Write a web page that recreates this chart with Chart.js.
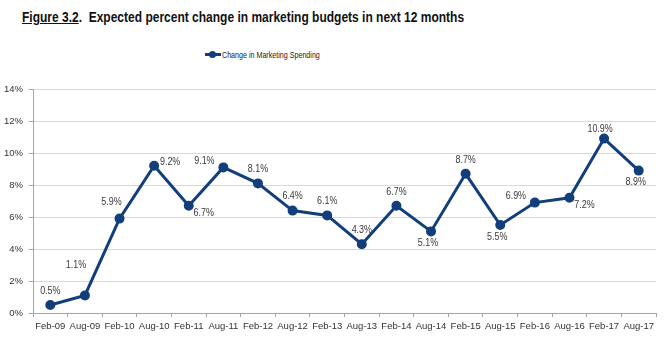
<!DOCTYPE html>
<html>
<head>
<meta charset="utf-8">
<script src="https://cdn.jsdelivr.net/npm/chart.js@4/dist/chart.umd.min.js"></script>
<style>
  html, body { margin: 0; padding: 0; background: #fff; }
  body { width: 666px; height: 337px; position: relative; overflow: hidden;
         font-family: "Liberation Sans Narrow", "Arial Narrow", "Liberation Sans", Arial, sans-serif; }
  #title { position: absolute; left: 22px; top: 8px; font-size: 15px; font-weight: bold; color: #111; white-space: nowrap;
           transform: scaleX(0.80); transform-origin: left top; }
  #title u { text-decoration: underline; }
  #legend { position: absolute; left: 205px; top: 48px; font-size: 9.5px; color: #222; white-space: nowrap; }
  #legend .mark { display: inline-block; position: relative; width: 16px; height: 10px; vertical-align: middle; margin-right: 1px; }
  #legend .mark::before { content: ""; position: absolute; left: 0; right: 0; top: 4px; height: 3px; background: #123f7c; }
  #legend .mark::after { content: ""; position: absolute; left: 4px; top: 2px; width: 7px; height: 7px; border-radius: 50%; background: #123f7c; }
  #legend .txt { display: inline-block; transform: scaleX(0.75); transform-origin: left center; vertical-align: middle; }
  #wrap { position: absolute; left: 0; top: 0; width: 666px; height: 337px; }
</style>
</head>
<body>
<div id="title"><u>Figure 3.2</u>.&nbsp; Expected percent change in marketing budgets in next 12 months</div>
<div id="legend"><span class="mark"></span><span class="txt">Change in Marketing Spending</span></div>
<div id="wrap"><canvas id="chart" width="666" height="337"></canvas></div>
<script>
// Survey periods
const periods = ['Feb-09', 'Aug-09', 'Feb-10', 'Aug-10', 'Feb-11', 'Aug-11', 'Feb-12', 'Aug-12', 'Feb-13',
                 'Aug-13', 'Feb-14', 'Aug-14', 'Feb-15', 'Aug-15', 'Feb-16', 'Aug-16', 'Feb-17', 'Aug-17'];

// Expected percent change in marketing spending
const spending = [0.5, 1.1, 5.9, 9.2, 6.7, 9.1, 8.1, 6.4, 6.1, 4.3, 6.7, 5.1, 8.7, 5.5, 6.9, 7.2, 10.9, 8.9];

// Where each value label sits relative to its point
const labelSide = ['above', 'aboveFar', 'aboveLeft', 'right', 'belowRight', 'left', 'above', 'above', 'above',
                   'above', 'above', 'below', 'above', 'below', 'left', 'belowRight', 'aboveNear', 'below'];

const yTicks = [0, 2, 4, 6, 8, 10, 12, 14];

const FONT = '"Liberation Sans Narrow", "Arial Narrow", "Liberation Sans", Arial, sans-serif';
const BLUE = '#123f7c';

// label offsets (px) for each placement
const sideOffset = {
    above: [0, -14],
    aboveNear: [-4, -9],
    aboveFar: [-9, -30],
    aboveLeft: [-8, -16],
    left: [-19, -6],
    right: [16, -4],
    belowRight: [15, 7],
    below: [-3, 12]
};

// Draws the percent labels next to each point
const valueLabels = {
    id: 'valueLabels',
    afterDatasetsDraw(chart) {
        const ctx = chart.ctx;
        const meta = chart.getDatasetMeta(0);
        ctx.save();
        ctx.font = '10.5px ' + FONT;
        ctx.fillStyle = '#3a3a3a';
        ctx.textBaseline = 'middle';
        ctx.textAlign = 'center';
        meta.data.forEach((pt, i) => {
            const text = spending[i].toFixed(1) + '%';
            const off = sideOffset[labelSide[i]];
            ctx.save();
            ctx.translate(pt.x + off[0], pt.y + off[1]);
            ctx.scale(0.85, 1);
            ctx.fillText(text, 0, 0);
            ctx.restore();
        });
        ctx.restore();
    }
};

document.addEventListener('DOMContentLoaded', () => {
    const ctx = document.getElementById('chart').getContext('2d');
    new Chart(ctx, {
        type: 'line',
        data: {
            labels: periods,
            datasets: [{
                label: 'Change in Marketing Spending',
                data: spending,
                borderColor: BLUE,
                backgroundColor: BLUE,
                borderWidth: 3,
                pointRadius: 3.5,
                pointBackgroundColor: BLUE,
                pointBorderColor: BLUE,
                tension: 0
            }]
        },
        options: {
            responsive: false,
            animation: false,
            layout: { padding: { top: 89, right: 10, left: 0, bottom: 0 } },
            plugins: {
                legend: { display: false },
                tooltip: { enabled: false }
            },
            scales: {
                x: {
                    offset: true,
                    grid: { offset: true, drawOnChartArea: false, drawTicks: true, tickLength: 4, color: '#a6a6a6' },
                    border: { color: '#a6a6a6', width: 1 },
                    ticks: { color: '#333', font: { family: FONT, size: 9.5 }, maxRotation: 0, autoSkip: false, padding: 4 },
                    afterFit(scale) { scale.height = 24; }
                },
                y: {
                    min: 0,
                    max: 14,
                    afterBuildTicks(scale) { scale.ticks = yTicks.map(v => ({ value: v })); },
                    grid: { color: '#d9d9d9', drawTicks: true, tickLength: 4, tickColor: '#a6a6a6' },
                    border: { color: '#a6a6a6', width: 1 },
                    ticks: { color: '#333', font: { family: FONT, size: 9.5 }, padding: 6, callback: v => v + '%' },
                    afterFit(scale) { scale.width = 33; }
                }
            }
        },
        plugins: [valueLabels]
    });
});
</script>
</body>
</html>
